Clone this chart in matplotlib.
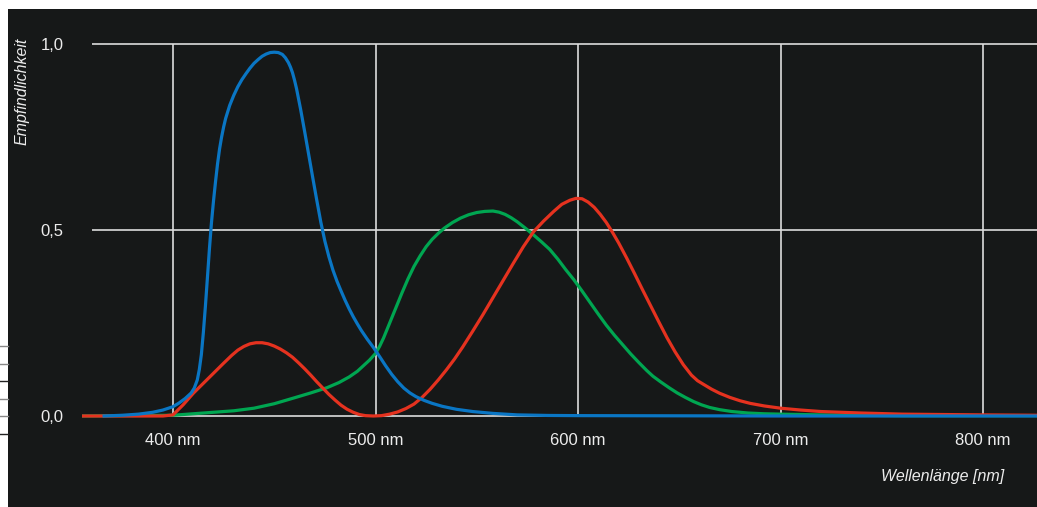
import numpy as np
import matplotlib.pyplot as plt
from matplotlib.patches import Rectangle
from matplotlib.lines import Line2D

# data
blue_nm = [366, 375, 383, 390, 395, 400, 403, 406, 409, 410.5, 412, 413, 414, 415, 416, 417,
           418, 419, 420, 421, 422, 423, 424, 425, 426, 428, 430, 432, 434, 436, 438, 440,
           442, 444, 446, 448, 450, 452, 454, 455.5, 457, 458, 459, 460, 461, 463, 465, 467,
           469, 471, 473, 475, 477, 479, 481, 483, 485, 487, 489, 491, 493, 496, 499, 502,
           505, 508, 511, 514, 517, 520, 524, 528, 533, 540, 548, 558, 570, 585, 600, 650,
           700, 827]
blue_val = [0.0, 0.002, 0.005, 0.01, 0.016, 0.025, 0.035, 0.047, 0.062, 0.075, 0.097, 0.125,
            0.165, 0.225, 0.295, 0.372, 0.45, 0.52, 0.578, 0.63, 0.678, 0.718, 0.75, 0.777,
            0.80, 0.835, 0.862, 0.885, 0.904, 0.92, 0.935, 0.948, 0.958, 0.967, 0.973, 0.977,
            0.978, 0.977, 0.972, 0.963, 0.950, 0.938, 0.923, 0.903, 0.88, 0.825, 0.765, 0.703,
            0.641, 0.580, 0.521, 0.470, 0.428, 0.392, 0.362, 0.336, 0.311, 0.288, 0.267,
            0.248, 0.230, 0.206, 0.184, 0.160, 0.135, 0.112, 0.092, 0.075, 0.062, 0.052,
            0.042, 0.034, 0.026, 0.018, 0.012, 0.007, 0.003, 0.0015, 0.001, 0.0005, 0.0, 0.0]

red_nm = [355, 395, 400, 405, 410, 415, 420, 425, 429, 432, 435, 438, 441, 444, 447, 450,
          453, 456, 459, 462, 465, 468, 471, 474, 477, 480, 483, 486, 489, 492, 495, 499,
          503, 507, 511, 515, 519, 523, 527, 531, 535, 539, 543, 548, 553, 558, 563, 568,
          573, 578, 583, 588, 592, 596, 599, 602, 605, 608, 611, 614, 617, 620, 624, 628,
          632, 636, 640, 644, 648, 652, 656, 659, 662, 666, 670, 675, 680, 685, 692, 700,
          710, 720, 740, 760, 780, 800, 827]
red_val = [0.0, 0.0, 0.003, 0.03, 0.061, 0.088, 0.115, 0.142, 0.163, 0.177, 0.187, 0.194,
           0.197, 0.197, 0.194, 0.188, 0.18, 0.17, 0.158, 0.143, 0.127, 0.11, 0.092, 0.075,
           0.058, 0.043, 0.029, 0.018, 0.010, 0.004, 0.001, 0.0, 0.001, 0.005, 0.011, 0.02,
           0.032, 0.05, 0.072, 0.097, 0.124, 0.153, 0.185, 0.228, 0.272, 0.318, 0.364, 0.41,
           0.455, 0.495, 0.524, 0.550, 0.569, 0.580, 0.585, 0.584, 0.575, 0.561, 0.542, 0.52,
           0.494, 0.466, 0.425, 0.382, 0.338, 0.295, 0.252, 0.21, 0.172, 0.138, 0.11, 0.095,
           0.085, 0.072, 0.061, 0.05, 0.041, 0.034, 0.027, 0.021, 0.016, 0.012, 0.008,
           0.005, 0.004, 0.003, 0.002]

green_nm = [355, 400, 410, 420, 430, 440, 450, 460, 468, 476, 482, 487, 491, 494, 497, 500,
            502, 504, 507, 510, 513, 516, 519, 522, 525, 528, 531, 534, 538, 542, 546, 550,
            554, 558, 561, 564, 567, 570, 574, 578, 582, 586, 590, 594, 598, 602, 606, 610,
            614, 618, 622, 626, 630, 634, 637, 641, 645, 649, 653, 657, 661, 665, 670, 676,
            684, 692, 700, 720, 760, 827]
green_val = [0.0, 0.002, 0.006, 0.01, 0.014, 0.021, 0.033, 0.049, 0.062, 0.076, 0.09, 0.105,
             0.12, 0.135, 0.15, 0.168, 0.187, 0.21, 0.25, 0.29, 0.33, 0.368, 0.402, 0.43,
             0.455, 0.475, 0.491, 0.505, 0.52, 0.532, 0.541, 0.547, 0.55, 0.551, 0.548, 0.542,
             0.533, 0.522, 0.505, 0.487, 0.468, 0.448, 0.422, 0.393, 0.366, 0.336, 0.305,
             0.274, 0.244, 0.217, 0.192, 0.167, 0.144, 0.122, 0.107, 0.091, 0.076, 0.062,
             0.05, 0.039, 0.03, 0.023, 0.017, 0.012, 0.008, 0.006, 0.005, 0.003, 0.001, 0.001]

x_ticks = [400, 500, 600, 700, 800]
x_labels = ["400 nm", "500 nm", "600 nm", "700 nm", "800 nm"]
y_ticks = [0.0, 0.5, 1.0]
y_labels = ["0,0", "0,5", "1,0"]

BG = "#161818"
GRID = "#dcdcdc"
TXT = "#ececec"
FONT = ["Liberation Sans Narrow", "Liberation Sans", "DejaVu Sans"]
plt.rcParams["font.family"] = FONT

W, H = 1037, 507
fig = plt.figure(figsize=(W / 100, H / 100), dpi=100, facecolor="white")
fig.patches.append(Rectangle((8 / W, 0), 1, (H - 9) / H, transform=fig.transFigure,
                             facecolor=BG, edgecolor="none", zorder=-10))

# little marks in the left white margin
for yy, c in [(346, "#888888"), (364, "#888888"), (381, "#222222"),
              (399, "#888888"), (416, "#888888"), (434, "#222222")]:
    fig.add_artist(Line2D([0, 8 / W], [1 - yy / H, 1 - yy / H], color=c, lw=1.0))

xmin, xmax = 355, 827
ymin, ymax = -0.03, 1.05
x0 = 173 - (400 - xmin) * 2.025
x1 = 173 + (xmax - 400) * 2.025
ytop = 44 - (ymax - 1.0) * 372
ybot = 416 + (0 - ymin) * 372
ax = fig.add_axes([x0 / W, 1 - ybot / H, (x1 - x0) / W, (ybot - ytop) / H])
ax.set_facecolor("none")
ax.set_xlim(xmin, xmax)
ax.set_ylim(ymin, ymax)
for s in ax.spines.values():
    s.set_visible(False)

ax.hlines(y_ticks, 360, xmax, color=GRID, lw=1.2, zorder=1)
ax.vlines(x_ticks, 0, 1.0, color=GRID, lw=1.2, zorder=1)

ax.plot(green_nm, green_val, color="#00a651", lw=2.3, zorder=3, solid_joinstyle="round")
ax.plot(red_nm, red_val, color="#e5321f", lw=2.3, zorder=4, solid_joinstyle="round")
ax.plot(blue_nm, blue_val, color="#0a76c4", lw=2.3, zorder=5, solid_joinstyle="round")

ax.set_xticks(x_ticks, x_labels)
ax.set_yticks(y_ticks, y_labels)
ax.tick_params(axis="x", length=0, pad=4.5, labelsize=12, labelcolor=TXT)
ax.tick_params(axis="y", length=0, pad=13, labelsize=12, labelcolor=TXT)

fig.text(22 / W, 1 - 38 / H, "Empfindlichkeit", rotation=90, ha="center", va="top",
         fontsize=11.5, style="italic", color=TXT)
fig.text(1004 / W, 1 - 477 / H, "Wellenlänge [nm]", ha="right", va="center",
         fontsize=11.5, style="italic", color=TXT)

fig.savefig("out.png", dpi=100, facecolor="white")
